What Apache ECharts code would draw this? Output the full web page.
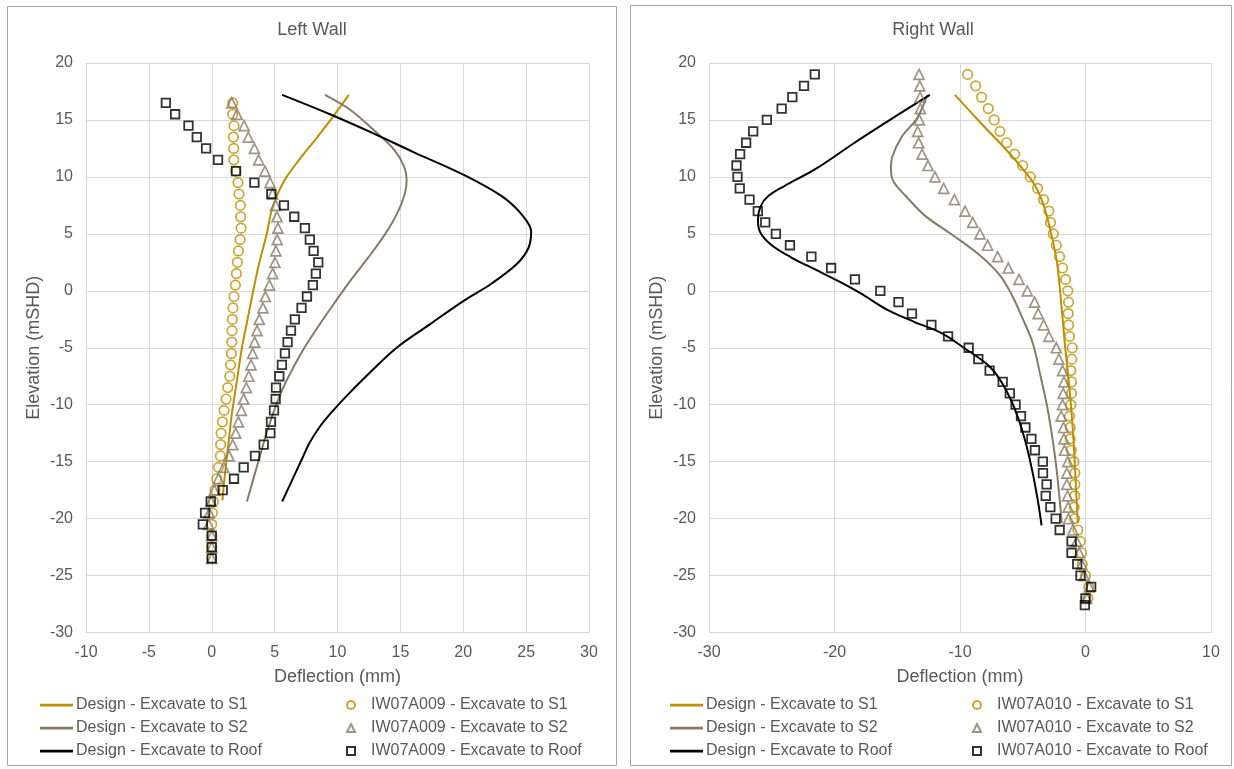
<!DOCTYPE html>
<html>
<head>
<meta charset="utf-8">
<script src="https://cdn.jsdelivr.net/npm/echarts@6/dist/echarts.min.js"></script>
<style>html,body{margin:0;padding:0;background:#fff}#c{width:1234px;height:769px}</style>
</head>
<body>
<div id="c"></div>
<script>
// ---------- Left wall : measured (IW07A009) ----------
const leftElev = [16.5, 15.5, 14.5, 13.5, 12.5, 11.5, 10.5, 9.5, 8.5, 7.5, 6.5, 5.5, 4.5, 3.5, 2.5, 1.5, 0.5,
  -0.5, -1.5, -2.5, -3.5, -4.5, -5.5, -6.5, -7.5, -8.5, -9.5, -10.5, -11.5, -12.5, -13.5, -14.5, -15.5, -16.5,
  -17.5, -18.5, -19.5, -20.5, -21.5, -22.5, -23.5];
const leftS1 = [1.67, 1.67, 1.77, 1.72, 1.75, 1.75, 1.9, 2.09, 2.17, 2.28, 2.3, 2.33, 2.25, 2.12, 2.04, 1.96, 1.88,
  1.77, 1.69, 1.64, 1.61, 1.59, 1.56, 1.5, 1.43, 1.27, 1.14, 0.98, 0.85, 0.74, 0.71, 0.69, 0.53, 0.4,
  0.26, 0.13, 0.05, 0.0, 0.0, 0.0, 0.0];
const leftS2 = [1.59, 2.01, 2.57, 2.91, 3.39, 3.73, 4.23, 4.63, 4.84, 5.08, 5.19, 5.26, 5.21, 5.1, 5.03, 4.84, 4.58,
  4.26, 4.07, 3.78, 3.6, 3.41, 3.25, 3.12, 2.94, 2.75, 2.54, 2.35, 2.12, 1.9, 1.67, 1.38, 0.95, 0.53,
  0.21, -0.05, -0.2, -0.25, 0.0, 0.0, 0.0];
const leftRoof = [-3.65, -2.91, -1.85, -1.19, -0.45, 0.5, 1.93, 3.39, 4.74, 5.74, 6.56, 7.41, 7.8, 8.1, 8.47, 8.28, 8.04,
  7.57, 7.14, 6.61, 6.3, 6.03, 5.82, 5.58, 5.37, 5.11, 5.08, 4.95, 4.71, 4.66, 4.13, 3.44, 2.54, 1.77,
  0.87, -0.08, -0.53, -0.71, 0.0, 0.0, 0.0];

// ---------- Left wall : design curves [deflection, elevation] ----------
const leftDesignS1 = [[10.9,17.2],[9.45,15.0],[8.4,13.5],[7.3,12.0],[6.6,11.0],[5.95,10.0],[5.45,9.0],[5.05,8.0],
  [4.75,7.0],[4.55,6.0],[4.38,5.0],[3.79,2.5],[3.3,0.0],[2.85,-2.5],[2.4,-5.0],[2.0,-7.9],[1.6,-10.8],[1.3,-13.7],
  [1.0,-16.6],[0.85,-18.4]];
const leftDesignS2 = [[9.0,17.2],[11.0,15.9],[12.9,14.1],[14.5,12.4],[15.3,10.9],[15.5,9.7],[15.35,8.5],[14.75,6.8],
  [13.8,5.0],[12.5,3.0],[11.1,1.0],[9.8,-1.0],[8.55,-3.0],[7.1,-5.5],[5.6,-8.7],[4.5,-12.0],[3.65,-15.2],[2.8,-18.5]];
const leftDesignRoof = [[5.6,17.2],[9.4,15.5],[12.9,13.8],[16.0,12.2],[20.0,10.2],[23.2,8.2],[24.8,6.5],[25.4,5.2],
  [25.2,3.8],[24.3,2.4],[22.2,0.6],[20.0,-0.9],[17.4,-2.9],[14.7,-5.0],[12.1,-7.7],[10.75,-9.2],[9.5,-10.7],
  [8.55,-12.0],[7.8,-13.3],[7.2,-14.7],[6.4,-16.6],[5.6,-18.5]];

// ---------- Right wall : measured (IW07A010) ----------
const rightElev = [19, 18, 17, 16, 15, 14, 13, 12, 11, 10, 9, 8, 7, 6, 5, 4, 3, 2, 1, 0, -1, -2, -3, -4, -5, -6, -7,
  -8, -9, -10, -11, -12, -13, -14, -15, -16, -17, -18, -19, -20, -21, -22, -23, -24, -25, -26, -27];
const rightS1 = [-9.39, -8.75, -8.28, -7.75, -7.27, -6.82, -6.29, -5.65, -5.01, -4.4, -3.82, -3.34, -2.92, -2.79, -2.57,
  -2.33, -2.07, -1.83, -1.59, -1.41, -1.35, -1.38, -1.35, -1.27, -1.06, -1.09, -1.17, -1.11, -1.11, -1.17, -1.27,
  -1.22, -1.22, -1.14, -0.93, -0.85, -0.85, -0.85, -0.9, -0.87, -0.61, -0.42, -0.32, -0.26, 0.0, 0.26, 0.19];
const rightS2 = [-13.26, -13.21, -13.18, -13.16, -13.24, -13.37, -13.29, -13.02, -12.55, -11.99, -11.3, -10.45, -9.6,
  -8.99, -8.41, -7.8, -7.0, -6.15, -5.3, -4.64, -4.06, -3.77, -3.34, -2.92, -2.33, -2.12, -1.83, -1.72, -1.78,
  -1.83, -1.94, -1.75, -1.72, -1.67, -1.41, -1.49, -1.49, -1.43, -1.38, -1.35, -1.0, -0.7, -0.5, -0.3, -0.1, 0.3, 0.1];
const rightRoofElev = [19, 18, 17, 16, 15, 14, 13, 12, 11, 10, 9, 8, 7, 6, 5, 4, 3, 2, 1, 0, -1, -2, -3, -4, -5, -6, -7,
  -8, -9, -10, -11, -12, -13, -14, -15, -16, -17, -18, -19, -20, -21, -22, -23, -24, -25, -26, -27, -27.6];
const rightRoof = [-21.57, -22.43, -23.36, -24.21, -25.39, -26.48, -27.04, -27.52, -27.81, -27.73, -27.55, -26.77,
  -26.11, -25.52, -24.67, -23.55, -21.84, -20.27, -18.37, -16.35, -14.9, -13.83, -12.28, -10.95, -9.31, -8.54,
  -7.64, -6.6, -6.03, -5.57, -5.14, -4.79, -4.31, -4.03, -3.4, -3.39, -3.1, -3.17, -2.8, -2.38, -2.06, -1.11,
  -1.11, -0.66, -0.4, 0.45, 0.0, -0.05];

// ---------- Right wall : design curves [deflection, elevation] ----------
const rightDesignS1 = [[-10.4,17.2],[-8.4,14.8],[-6.5,12.6],[-5.0,10.7],[-4.0,9.2],[-3.3,7.4],[-2.8,5.3],[-2.3,2.7],
  [-2.0,-0.3],[-1.65,-4.6],[-1.25,-8.9],[-0.95,-13.2],[-0.75,-17.5],[-0.61,-20.4]];
const rightDesignS2 = [[-12.6,17.2],[-13.4,15.2],[-14.65,13.5],[-15.4,11.75],[-15.5,10.7],[-15.3,9.6],[-14.3,8.3],
  [-12.8,6.6],[-10.6,4.9],[-8.4,3.1],[-6.85,1.4],[-5.9,-0.3],[-5.0,-2.45],[-4.2,-4.6],[-3.6,-7.4],[-3.05,-10.2],
  [-2.6,-13.2],[-2.25,-16.2],[-2.0,-19.0],[-1.9,-20.4]];
const rightDesignRoof = [[-12.4,17.2],[-15.3,15.2],[-18.4,13.0],[-21.5,10.7],[-24.0,9.2],[-25.3,8.3],[-25.9,7.4],
  [-26.1,6.2],[-25.9,5.1],[-25.0,4.0],[-23.4,2.9],[-21.5,1.85],[-19.6,0.8],[-17.8,-0.3],[-15.9,-1.6],[-13.7,-2.7],
  [-11.5,-3.7],[-9.7,-5.0],[-7.8,-6.5],[-6.7,-8.0],[-5.7,-10.2],[-4.9,-12.8],[-4.3,-15.5],[-3.8,-18.4],[-3.5,-20.6]];

// ---------- Labels ----------
const titles = ['Left Wall', 'Right Wall'];
const designNames = ['Design - Excavate to S1', 'Design - Excavate to S2', 'Design - Excavate to Roof'];
const leftMeasNames = ['IW07A009 - Excavate to S1', 'IW07A009 - Excavate to S2', 'IW07A009 - Excavate to Roof'];
const rightMeasNames = ['IW07A010 - Excavate to S1', 'IW07A010 - Excavate to S2', 'IW07A010 - Excavate to Roof'];
const xAxisTitle = 'Deflection (mm)';
const yAxisTitle = 'Elevation (mSHD)';

// ---------- Styling ----------
const FONT = '"Liberation Sans", Arial, sans-serif';
const TXT = '#595959';
const GRIDC = '#D9D9D9';
const COLORS = ['#BF8F00', '#877B66', '#000000'];
const SYMBOLS = ['circle', 'triangle', 'rect'];
const SIZES = [9.5, 10, 8.5];
const BORDERS = [1.7, 1.7, 1.8];
const LINE_ICON = 'path://M0,0H120V10H0Z';

const pairs = (xs, ys) => xs.map((x, i) => [x, ys[i]]);

function makeX(gi, min, max, interval) {
  return {
    type: 'value', gridIndex: gi, min, max, interval,
    name: xAxisTitle, nameLocation: 'middle', nameGap: 36,
    nameTextStyle: { fontSize: 18, color: TXT, fontFamily: FONT },
    axisLine: { show: false }, axisTick: { show: false },
    axisLabel: { fontSize: 16, color: TXT, fontFamily: FONT, margin: 12 },
    splitLine: { show: true, lineStyle: { color: GRIDC, width: 1 } }
  };
}
function makeY(gi) {
  return {
    type: 'value', gridIndex: gi, min: -30, max: 20, interval: 5,
    name: yAxisTitle, nameLocation: 'middle', nameGap: 43,
    nameTextStyle: { fontSize: 18, color: TXT, fontFamily: FONT },
    axisLine: { show: false }, axisTick: { show: false },
    axisLabel: { fontSize: 16, color: TXT, fontFamily: FONT, margin: 13 },
    splitLine: { show: true, lineStyle: { color: GRIDC, width: 1 } }
  };
}
function designSeries(name, data, idx, gi) {
  return {
    type: 'line', name, data, xAxisIndex: gi, yAxisIndex: gi,
    symbol: 'none', smooth: 0.35, z: 2,
    lineStyle: { color: COLORS[idx], width: 2 },
    itemStyle: { color: COLORS[idx] }
  };
}
function measSeries(name, data, idx, gi) {
  return {
    type: 'scatter', name, data, xAxisIndex: gi, yAxisIndex: gi,
    symbol: SYMBOLS[idx], symbolSize: SIZES[idx], z: 3,
    itemStyle: { color: 'rgba(255,255,255,0)', borderColor: COLORS[idx], borderWidth: BORDERS[idx] }
  };
}
function lineLegend(left) {
  return {
    orient: 'vertical', left, top: 697, padding: 0,
    itemWidth: 33, itemHeight: 14, itemGap: 7, symbolKeepAspect: true,
    textStyle: { fontSize: 16, lineHeight: 16, color: TXT, fontFamily: FONT, padding: [0, 0, 0, -2] },
    data: designNames.map(n => ({ name: n, icon: LINE_ICON }))
  };
}
function markLegend(left, names) {
  return {
    orient: 'vertical', left, top: 697, padding: 0,
    itemWidth: 8, itemHeight: 8, itemGap: 7, symbolKeepAspect: true,
    textStyle: { fontSize: 16, lineHeight: 16, color: TXT, fontFamily: FONT, padding: [0, 0, 0, 11] },
    data: names
  };
}

const chart = echarts.init(document.getElementById('c'), null, { renderer: 'canvas' });
chart.setOption({
  animation: false,
  backgroundColor: '#ffffff',
  title: [
    { text: titles[0], left: 312, top: 21, padding: 0, textAlign: 'center',
      textStyle: { fontSize: 18, fontWeight: 'normal', color: TXT, fontFamily: FONT } },
    { text: titles[1], left: 933, top: 21, padding: 0, textAlign: 'center',
      textStyle: { fontSize: 18, fontWeight: 'normal', color: TXT, fontFamily: FONT } }
  ],
  graphic: [
    { type: 'rect', silent: true, z: -10, shape: { x: 7.5, y: 6.5, width: 609, height: 759 },
      style: { fill: 'none', stroke: '#A6A6A6', lineWidth: 1 } },
    { type: 'rect', silent: true, z: -10, shape: { x: 630.5, y: 5.5, width: 601, height: 760 },
      style: { fill: 'none', stroke: '#A6A6A6', lineWidth: 1 } }
  ],
  grid: [
    { left: 86, top: 63, width: 503, height: 569.5 },
    { left: 709, top: 63, width: 502, height: 569.5 }
  ],
  xAxis: [makeX(0, -10, 30, 5), makeX(1, -30, 10, 10)],
  yAxis: [makeY(0), makeY(1)],
  legend: [
    lineLegend(40),
    markLegend(346, leftMeasNames),
    lineLegend(670),
    markLegend(972, rightMeasNames)
  ],
  series: [
    designSeries(designNames[0], leftDesignS1, 0, 0),
    designSeries(designNames[1], leftDesignS2, 1, 0),
    designSeries(designNames[2], leftDesignRoof, 2, 0),
    measSeries(leftMeasNames[0], pairs(leftS1, leftElev), 0, 0),
    measSeries(leftMeasNames[1], pairs(leftS2, leftElev), 1, 0),
    measSeries(leftMeasNames[2], pairs(leftRoof, leftElev), 2, 0),
    designSeries(designNames[0], rightDesignS1, 0, 1),
    designSeries(designNames[1], rightDesignS2, 1, 1),
    designSeries(designNames[2], rightDesignRoof, 2, 1),
    measSeries(rightMeasNames[0], pairs(rightS1, rightElev), 0, 1),
    measSeries(rightMeasNames[1], pairs(rightS2, rightElev), 1, 1),
    measSeries(rightMeasNames[2], pairs(rightRoof, rightRoofElev), 2, 1)
  ]
});
</script>
</body>
</html>
